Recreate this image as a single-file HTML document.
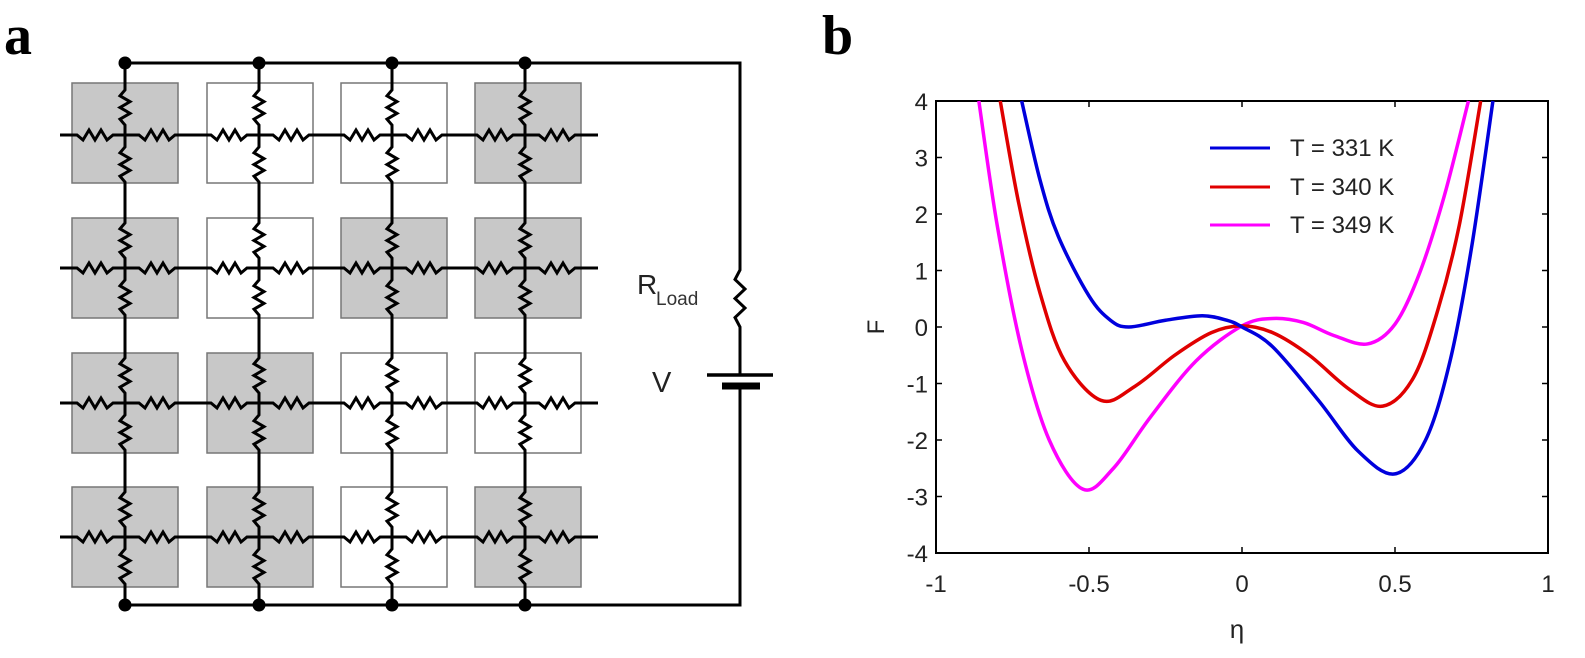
<!DOCTYPE html>
<html><head><meta charset="utf-8"><style>
html,body{margin:0;padding:0;background:#fff;width:1585px;height:658px;overflow:hidden}
svg{display:block}
text{font-family:"Liberation Sans",sans-serif}
</style></head><body>
<svg id="s" width="1585" height="658" xmlns="http://www.w3.org/2000/svg">
<text x="4" y="54" font-weight="bold" font-size="56" style="font-family:'Liberation Serif',serif">a</text>
<text x="822" y="54" font-weight="bold" font-size="56" style="font-family:'Liberation Serif',serif">b</text>
<g id="circ"></g>
<g id="plot"></g>
</svg>
<script>
const NS="http://www.w3.org/2000/svg";
function el(p,t,a,txt){const e=document.createElementNS(NS,t);for(const k in a)e.setAttribute(k,a[k]);if(txt!==undefined)e.textContent=txt;p.appendChild(e);return e;}
const C=document.getElementById('circ');
const cols=[125,259,392,525], rows=[135,268,403,537];
const sqx=[72,207,341,475], sqy=[83,218,353,487];
const G=[[1,0,0,1],[1,0,1,1],[1,1,0,0],[1,1,0,1]];
for(let r=0;r<4;r++)for(let c=0;c<4;c++)
 el(C,'rect',{x:sqx[c],y:sqy[r],width:106,height:100,fill:G[r][c]?'#c8c8c8':'#fff',stroke:'#777','stroke-width':1.5});
function zig(x1,y1,x2,y2){
 const n=6,dx=x2-x1,dy=y2-y1,L=Math.hypot(dx,dy),ux=dx/L,uy=dy/L,px=-uy,py=ux;
 let d=`M${x1},${y1}`;for(let i=1;i<n;i++){const t=i/n,s=(i%2?1:-1)*5;d+=` L${x1+dx*t+px*s},${y1+dy*t+py*s}`;}
 return d+` L${x2},${y2}`;}
const st={stroke:'#000','stroke-width':3,fill:'none','stroke-linejoin':'miter'};
rows.forEach(y=>{
 let d=`M60,${y}`;
 cols.forEach(x=>{d+=` L${x-48},${y} `+zig(x-48,y,x-12,y).replace('M','L')+` L${x},${y} L${x+14},${y} `+zig(x+14,y,x+50,y).replace('M','L');});
 d+=` L598,${y}`;el(C,'path',Object.assign({d},st));});
cols.forEach(x=>{
 let d=`M${x},63`;
 rows.forEach(y=>{d+=' '+zig(x,y-45,x,y-10).replace('M','L')+` L${x},${y} `+zig(x,y+12,x,y+47).replace('M','L');});
 d+=` L${x},605`;el(C,'path',Object.assign({d},st));
 el(C,'circle',{cx:x,cy:63,r:6.5,fill:'#000'});el(C,'circle',{cx:x,cy:605,r:6.5,fill:'#000'});});
el(C,'path',Object.assign({d:`M125,63 L740,63 L740,270 `+zig(740,270,740,327).replace('M','L')+' L740,375'},st));
el(C,'path',Object.assign({d:'M740,385 L740,605 L125,605'},st));
el(C,'line',{x1:707,y1:375,x2:773,y2:375,stroke:'#000','stroke-width':3.5});
el(C,'line',{x1:722,y1:386,x2:760,y2:386,stroke:'#000','stroke-width':7});
el(C,'text',{x:637,y:294,'font-size':28,fill:'#222'},'R');
el(C,'text',{x:656,y:305,'font-size':19,fill:'#333'},'Load');
el(C,'text',{x:652,y:392,'font-size':29,fill:'#222'},'V');
const P=document.getElementById('plot');
const X=v=>936+(v+1)*306, Y=v=>327-v*56.5;
el(P,'rect',{x:936,y:101,width:612,height:452,fill:'none',stroke:'#000','stroke-width':2});
[-1,-0.5,0,0.5,1].forEach(v=>{const x=X(v);
 el(P,'line',{x1:x,y1:553,x2:x,y2:547,stroke:'#000','stroke-width':1.5});
 el(P,'line',{x1:x,y1:101,x2:x,y2:107,stroke:'#000','stroke-width':1.5});
 el(P,'text',{x:x,y:592,'font-size':24,'text-anchor':'middle',fill:'#222'},String(v));});
for(let v=-4;v<=4;v++){const y=Y(v);
 el(P,'line',{x1:936,y1:y,x2:942,y2:y,stroke:'#000','stroke-width':1.5});
 el(P,'line',{x1:1548,y1:y,x2:1542,y2:y,stroke:'#000','stroke-width':1.5});
 el(P,'text',{x:928,y:y+9,'font-size':24,'text-anchor':'end',fill:'#222'},String(v));}
el(P,'text',{x:0,y:0,'font-size':24,'text-anchor':'middle',transform:'translate(884,327) rotate(-90)',fill:'#222'},'F');
el(P,'text',{x:1237,y:638,'font-size':26,'text-anchor':'middle',fill:'#222'},'η');
function cr(pts){const q=pts.map(p=>[X(p[0]),Y(p[1])]);let d=`M${q[0][0]},${q[0][1]}`;
 for(let i=0;i<q.length-1;i++){const p0=q[Math.max(i-1,0)],p1=q[i],p2=q[i+1],p3=q[Math.min(i+2,q.length-1)];
 d+=` C${p1[0]+(p2[0]-p0[0])/6},${p1[1]+(p2[1]-p0[1])/6} ${p2[0]-(p3[0]-p1[0])/6},${p2[1]-(p3[1]-p1[1])/6} ${p2[0]},${p2[1]}`;}return d;}
const blue=[[-0.72,4],[-0.66,2.6],[-0.6,1.6],[-0.5,0.55],[-0.43,0.12],[-0.37,0],[-0.25,0.12],[-0.13,0.2],[-0.05,0.12],[0,0],[0.1,-0.35],[0.25,-1.3],[0.38,-2.2],[0.5,-2.6],[0.6,-2.0],[0.68,-0.6],[0.75,1.4],[0.82,4]];
const red=[[-0.79,4],[-0.73,2.2],[-0.66,0.6],[-0.58,-0.6],[-0.46,-1.3],[-0.35,-1.05],[-0.22,-0.5],[-0.1,-0.1],[0,0.02],[0.1,-0.1],[0.22,-0.5],[0.35,-1.1],[0.46,-1.4],[0.56,-0.9],[0.64,0.3],[0.71,1.8],[0.78,4]];
const mag=[[-0.86,4],[-0.8,1.8],[-0.72,-0.4],[-0.63,-2.0],[-0.52,-2.87],[-0.42,-2.5],[-0.3,-1.6],[-0.15,-0.6],[0,0.02],[0.1,0.15],[0.2,0.08],[0.3,-0.15],[0.41,-0.3],[0.5,0.05],[0.58,0.95],[0.66,2.3],[0.74,4]];
el(P,'path',{d:cr(mag),stroke:'#ff00ff','stroke-width':3.5,fill:'none'});
el(P,'path',{d:cr(red),stroke:'#e00000','stroke-width':3.5,fill:'none'});
el(P,'path',{d:cr(blue),stroke:'#0000dd','stroke-width':3.5,fill:'none'});
[['#0000dd','T = 331 K',148],['#e00000','T = 340 K',187],['#ff00ff','T = 349 K',225]].forEach(([c,t,y])=>{
 el(P,'line',{x1:1210,y1:y,x2:1270,y2:y,stroke:c,'stroke-width':3});
 el(P,'text',{x:1290,y:y+8,'font-size':24,fill:'#222'},t);});
</script>
</body></html>
